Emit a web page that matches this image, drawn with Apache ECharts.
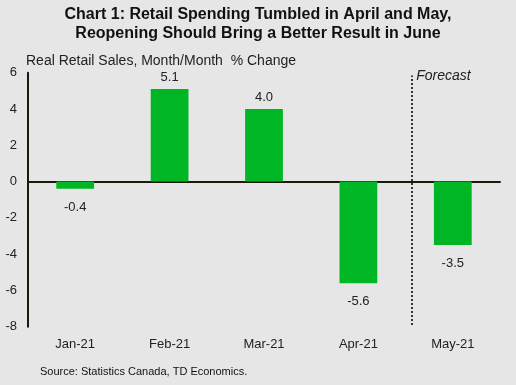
<!DOCTYPE html>
<html><head><meta charset="utf-8">
<script src="https://cdn.jsdelivr.net/npm/echarts@6/dist/echarts.min.js"></script>
<style>html,body{margin:0;padding:0;background:#e6e6e6;}#c{width:516px;height:385px;}</style>
</head><body><div id="c"></div>
<script>
const categories = ['Jan-21','Feb-21','Mar-21','Apr-21','May-21'];
const values = [-0.4, 5.1, 4.0, -5.6, -3.5];
const yTicks = [-8,-6,-4,-2,0,2,4,6];
const forecastPos = 3.57;

const chart = echarts.init(document.getElementById('c'), null, {renderer:'canvas'});
const FF = '"Liberation Sans", Arial, sans-serif';
chart.setOption({
  backgroundColor: '#e6e6e6',
  animation: false,
  title: [{
    text: 'Chart 1: Retail Spending Tumbled in April and May,',
    left: 'center', top: 7, padding: 0,
    textStyle: {fontFamily: FF, fontSize: 16, fontWeight: 'bold', color: '#111'}
  },{
    text: 'Reopening Should Bring a Better Result in June',
    left: 'center', top: 26, padding: 0,
    textStyle: {fontFamily: FF, fontSize: 16, fontWeight: 'bold', color: '#111'}
  },{
    text: 'Real Retail Sales, Month/Month  % Change',
    left: 26, top: 54, padding: 0,
    textStyle: {fontFamily: FF, fontSize: 14, fontWeight: 'normal', color: '#222'}
  },{
    text: 'Source: Statistics Canada, TD Economics.',
    left: 40, top: 366, padding: 0,
    textStyle: {fontFamily: FF, fontSize: 11, fontWeight: 'normal', color: '#111'}
  }],
  grid: {left: 28, right: 16, top: 72.7, bottom: 385-326.7},
  xAxis: [{
    type: 'category', data: categories,
    axisLine: {show: true, onZero: true, lineStyle: {color: '#1a1a0a', width: 2}},
    axisTick: {show: false},
    axisLabel: {fontFamily: FF, fontSize: 13, color: '#222', margin: 11},
    position: 'bottom'
  },{
    type: 'value', min: -0.5, max: 4.5, show: false
  }],
  yAxis: {
    type: 'value', min: yTicks[0], max: yTicks[yTicks.length-1], interval: 2,
    splitLine: {show: false},
    axisLine: {show: true, onZero: false, lineStyle: {color: '#1a1a0a', width: 2}},
    axisTick: {show: false},
    axisLabel: {fontFamily: FF, fontSize: 13, color: '#222', margin: 11}
  },
  series: [{
    type: 'bar', xAxisIndex: 0, barWidth: '40%',
    data: values.map(v => ({value: v, label: {position: v < 0 ? 'bottom' : 'top', distance: v < 0 ? 12 : 5}})),
    itemStyle: {color: '#00b624'},
    label: {show: true, fontFamily: FF, fontSize: 13, color: '#222',
      formatter: p => p.value.toFixed(1)}
  },{
    type: 'line', xAxisIndex: 1, data: [], symbol: 'none',
    markLine: {
      silent: true, symbol: 'none',
      lineStyle: {type: [2,2], color: '#333', width: 2},
      label: {show: true, position: 'end', formatter: 'Forecast', fontFamily: FF,
        fontSize: 14, fontStyle: 'italic', color: '#222', align: 'left', verticalAlign: 'middle',
        distance: 0, offset: [4, 1]},
      data: [[{coord: [forecastPos, -7.9]}, {coord: [forecastPos, 5.85]}]]
    }
  }]
});
</script></body></html>
